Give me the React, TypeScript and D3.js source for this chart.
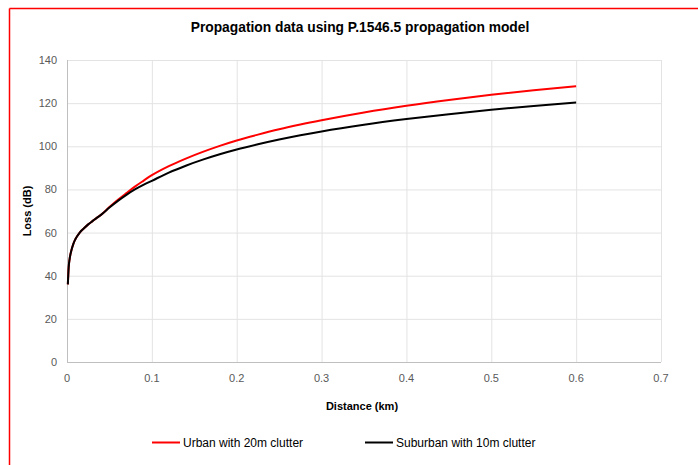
import React from "react";
import * as d3 from "d3";

const distances = [0.001, 0.002, 0.003, 0.005, 0.0075, 0.01, 0.015, 0.02, 0.025, 0.03, 0.035, 0.04, 0.05, 0.06, 0.07, 0.08, 0.09, 0.1, 0.12, 0.14, 0.16, 0.18, 0.2, 0.225, 0.25, 0.275, 0.3, 0.35, 0.4, 0.45, 0.5, 0.55, 0.6];
const urbanLoss = [36, 44, 47.5, 51.5, 54.8, 57, 60, 62, 63.8, 65.3, 66.8, 68.2, 71.8, 75.2, 78.3, 81.3, 84.0, 86.6, 90.8, 94.3, 97.4, 100.2, 102.7, 105.4, 107.9, 110.1, 112.1, 115.7, 118.8, 121.5, 123.9, 126.0, 127.8];
const suburbanLoss = [36, 44, 47.5, 51.5, 54.8, 57, 60, 62, 63.8, 65.3, 66.8, 68.2, 71.6, 74.7, 77.5, 80.0, 82.1, 84.0, 87.8, 91.0, 93.8, 96.3, 98.5, 100.9, 103.1, 105.1, 106.9, 110.0, 112.6, 114.9, 116.9, 118.7, 120.3];
const xTicks = [0, 0.1, 0.2, 0.3, 0.4, 0.5, 0.6, 0.7];
const yTicks = [0, 20, 40, 60, 80, 100, 120, 140];
const seriesNames = ["Urban with 20m clutter", "Suburban with 10m clutter"];
const seriesColors = ["#ff0000", "#000000"];
const titleText = "Propagation data using P.1546.5 propagation model";
const xTitle = "Distance (km)";
const yTitle = "Loss (dB)";

const W = 698;
const H = 465;
const FONT = "'Liberation Sans', Arial, sans-serif";

export default function App() {
  const x = d3.scaleLinear().domain([0, 0.7]).range([67, 661]);
  const y = d3.scaleLinear().domain([0, 140]).range([362, 60]);
  const line = d3
    .line<[number, number]>()
    .x((d) => x(d[0]))
    .y((d) => y(d[1]))
    .curve(d3.curveMonotoneX);
  const series = [urbanLoss, suburbanLoss];
  const legendX = [152, 365];

  return (
    <svg
      width={W}
      height={H}
      style={{ position: "absolute", left: 0, top: 0, background: "#fff" }}
    >
      <rect x={0} y={0} width={W} height={H} fill="#fff" />
      <line x1={9.5} y1={8.5} x2={698} y2={8.5} stroke="#ff0000" strokeWidth={1.5} />
      <line x1={9.5} y1={8.5} x2={9.5} y2={465} stroke="#ff0000" strokeWidth={1.5} />
      <text
        x={360}
        y={32}
        textAnchor="middle"
        fontFamily={FONT}
        fontWeight="bold"
        fontSize={13.8}
        fill="#000"
      >
        {titleText}
      </text>
      {yTicks.map((t) => (
        <g key={"y" + t}>
          <line x1={67} x2={661} y1={y(t) + 0.5} y2={y(t) + 0.5} stroke="#e3e3e3" strokeWidth={1} />
          <text
            x={57}
            y={y(t) + 4}
            textAnchor="end"
            fontFamily={FONT}
            fontSize={11}
            fill="#595959"
          >
            {t}
          </text>
        </g>
      ))}
      {xTicks.map((t) => (
        <g key={"x" + t}>
          <line x1={x(t) + 0.5} x2={x(t) + 0.5} y1={60} y2={362} stroke="#e3e3e3" strokeWidth={1} />
          <text
            x={x(t)}
            y={382}
            textAnchor="middle"
            fontFamily={FONT}
            fontSize={11}
            fill="#595959"
          >
            {t}
          </text>
        </g>
      ))}
      <line x1={67.5} x2={67.5} y1={60} y2={362} stroke="#bfbfbf" />
      <line x1={67} x2={661} y1={362.5} y2={362.5} stroke="#bfbfbf" />
      {series.map((vals, i) => (
        <path
          key={"s" + i}
          d={line(distances.map((d, j) => [d, vals[j]] as [number, number])) || ""}
          fill="none"
          stroke={seriesColors[i]}
          strokeWidth={2}
          strokeLinejoin="round"
        />
      ))}
      <text
        x={362}
        y={410}
        textAnchor="middle"
        fontFamily={FONT}
        fontWeight="bold"
        fontSize={11}
        fill="#000"
      >
        {xTitle}
      </text>
      <text
        transform="translate(31,211) rotate(-90)"
        textAnchor="middle"
        fontFamily={FONT}
        fontWeight="bold"
        fontSize={11}
        fill="#000"
      >
        {yTitle}
      </text>
      {seriesNames.map((n, i) => (
        <g key={"l" + i}>
          <line
            x1={legendX[i]}
            x2={legendX[i] + 28}
            y1={442.5}
            y2={442.5}
            stroke={seriesColors[i]}
            strokeWidth={2}
          />
          <text
            x={legendX[i] + 31}
            y={447}
            fontFamily={FONT}
            fontSize={12}
            fill="#000"
          >
            {n}
          </text>
        </g>
      ))}
    </svg>
  );
}
